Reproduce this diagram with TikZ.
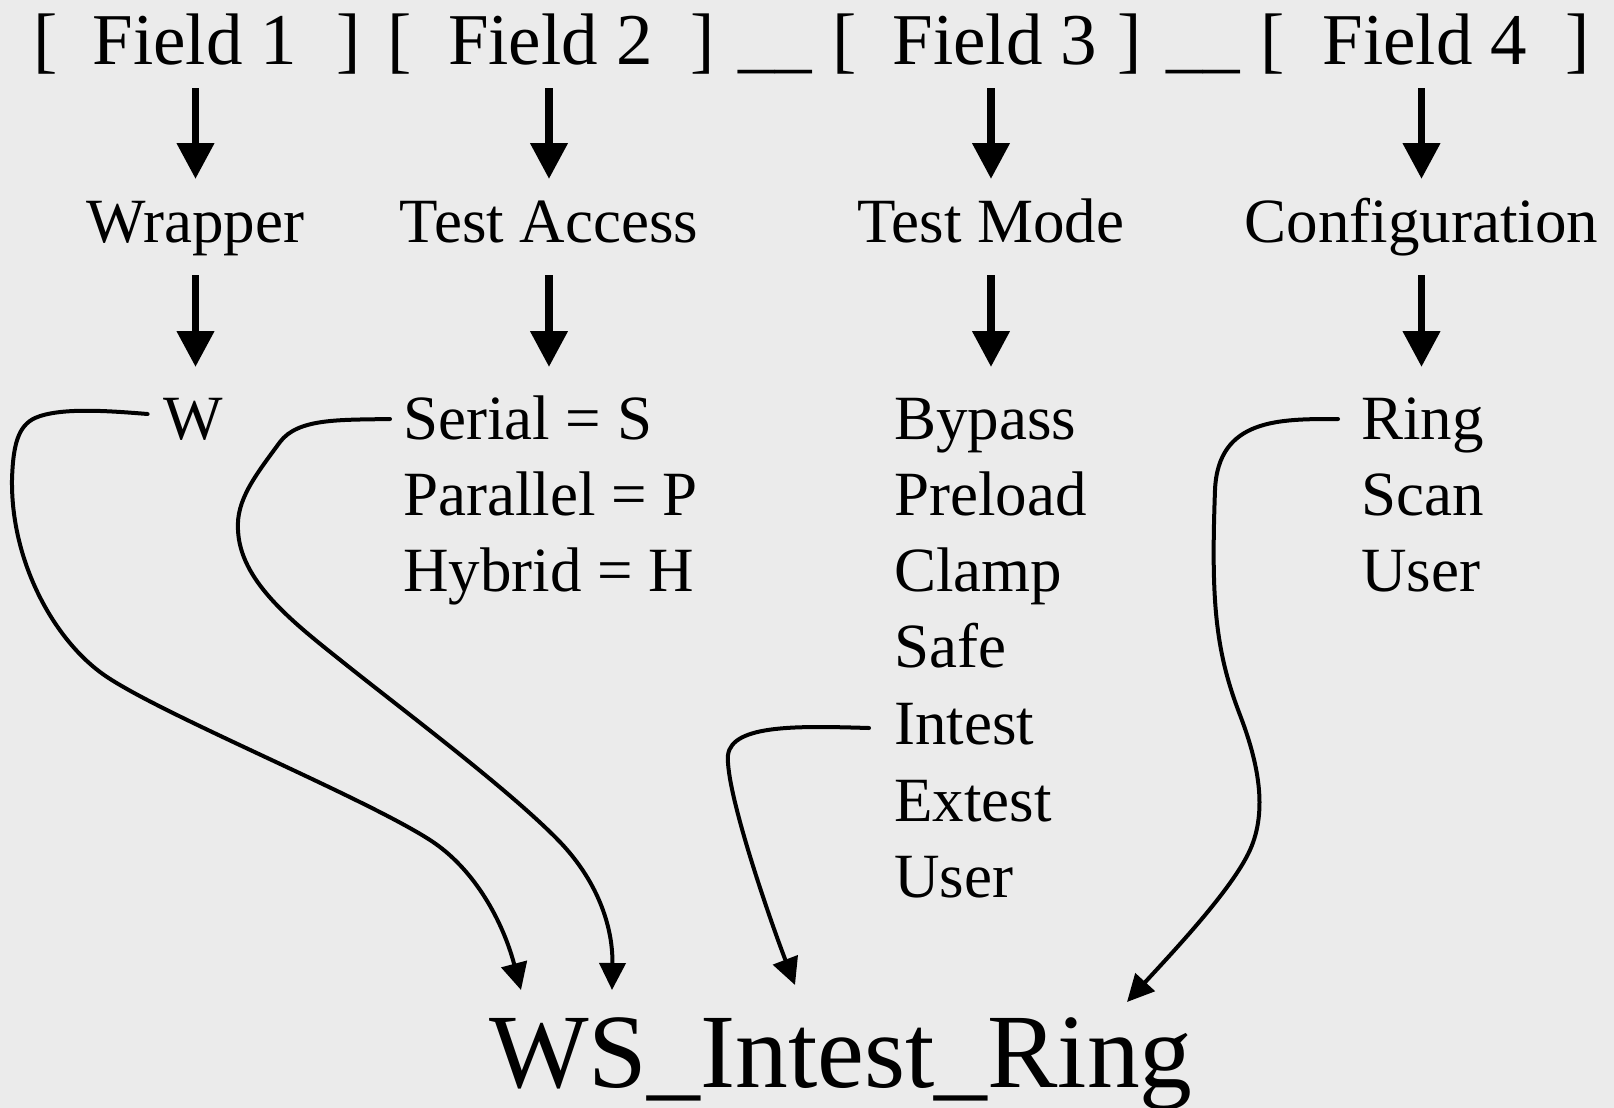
\documentclass[tikz,border=0pt]{standalone}
\usepackage{fontspec}
\setmainfont{Liberation Serif}
\usetikzlibrary{arrows.meta}
\definecolor{bg}{RGB}{235,235,235}
\begin{document}
\begin{tikzpicture}[x=1pt,y=-1pt,
  toptxt/.style={font=\fontsize{73}{80}\selectfont, inner sep=0pt, anchor=base},
  midtxt/.style={font=\fontsize{63}{70}\selectfont, inner sep=0pt, anchor=base},
  itemtxt/.style={font=\fontsize{63}{70}\selectfont, inner sep=0pt, anchor=base west},
  bigtxt/.style={font=\fontsize{105.5}{110}\selectfont, inner sep=0pt, anchor=base},
  downarrow/.style={line width=7.5pt, -{Triangle[width=36pt,length=36pt]}},
  linkarrow/.style={line width=4pt, line cap=round, line join=round, -{Triangle[width=26pt,length=27pt]}}]
\fill[bg] (0,0) rectangle (1614,1108);
\useasboundingbox (0,0) rectangle (1614,1108);

% top row
\node[toptxt] (lb1) at (45.5,65) {[};
\node[toptxt] (f1) at (195,65) {Field 1};
\node[toptxt] (rb1) at (349,65) {]};
\node[toptxt] (lb2) at (399.5,65) {[};
\node[toptxt] (f2) at (550.5,65) {Field 2};
\node[toptxt] (rb2) at (703,65) {]};
\node[toptxt] (us1) at (775,65) {\_\_};
\node[toptxt] (lb3) at (844.5,65) {[};
\node[toptxt] (f3) at (995,65) {Field 3};
\node[toptxt] (rb3) at (1130,65) {]};
\node[toptxt] (us2) at (1203,65) {\_\_};
\node[toptxt] (lb4) at (1273,65) {[};
\node[toptxt] (f4) at (1425,65) {Field 4};
\node[toptxt] (rb4) at (1577.5,65) {]};

% middle row
\node[midtxt] (wrap) at (195.5,242) {Wrapper};
\node[midtxt] (tacc) at (549,242) {Test Access};
\node[midtxt] (tmode) at (991,242) {Test Mode};
\node[midtxt] (conf) at (1421.5,242) {Configuration};

% third row
\node[midtxt] (W) at (193.5,439) {W};
\node[itemtxt] (ser) at (403,439) {Serial = S};
\node[itemtxt] (par) at (403,515) {Parallel = P};
\node[itemtxt] (hyb) at (403,591) {Hybrid = H};
\node[itemtxt] (byp) at (894,439) {Bypass};
\node[itemtxt] (pre) at (894,515) {Preload};
\node[itemtxt] (cla) at (894,591) {Clamp};
\node[itemtxt] (saf) at (894,667) {Safe};
\node[itemtxt] (int) at (894,744) {Intest};
\node[itemtxt] (ext) at (894,821) {Extest};
\node[itemtxt] (usr) at (894,897) {User};
\node[itemtxt] (ring) at (1361,439) {Ring};
\node[itemtxt] (scan) at (1361,515) {Scan};
\node[itemtxt] (cusr) at (1361,591) {User};

% result
\node[bigtxt] (res) at (841,1087) {WS\_Intest\_Ring};

% straight arrows
\foreach \m in {wrap,tacc,tmode,conf}{
  \draw[downarrow] ([yshift=-23pt]\m.base |- f1.base) -- ([yshift=63pt]\m.base);
  \draw[downarrow] ([yshift=-33pt]\m.base) -- ([yshift=72pt]\m.base |- W.base);
}

% curve start/end points
\coordinate (s1) at ([xshift=-16pt,yshift=25pt]W.base west);
\coordinate (s2) at ([xshift=-13pt,yshift=20pt]ser.base west);
\coordinate (s3) at ([xshift=-25pt,yshift=16pt]int.base west);
\coordinate (s4) at ([xshift=-23pt,yshift=20pt]ring.base west);
\coordinate (t1) at ([shift={(-320,-97)}]res.base);
\coordinate (t2) at ([shift={(-229,-97)}]res.base);
\coordinate (t3) at ([shift={(-46,-102)}]res.base);
\coordinate (t4) at ([shift={(286,-85)}]res.base);

\draw[linkarrow] (s1) .. controls (110,411) and (60,407) .. (35,418)
  .. controls (18,426) and (13,445) .. (12,480)
  .. controls (11,560) and (52,636) .. (100,672)
  .. controls (150,710) and (360,795) .. (430,840)
  .. controls (475,869) and (503,922) .. (t1);
\draw[linkarrow] (s2) .. controls (340,420) and (298,418) .. (280,442)
  .. controls (255,476) and (236,500) .. (238,530)
  .. controls (240,580) and (290,620) .. (339,659)
  .. controls (400,708) and (510,790) .. (560,842)
  .. controls (600,884) and (613,930) .. (t2);
\draw[linkarrow] (s3) .. controls (800,726) and (732,724) .. (728,755)
  .. controls (725,790) and (770,920) .. (t3);
\draw[linkarrow] (s4) .. controls (1280,419) and (1218,418) .. (1215,490)
  .. controls (1211,600) and (1215,650) .. (1240,715)
  .. controls (1258,762) and (1268,810) .. (1250,850)
  .. controls (1232,890) and (1170,955) .. (t4);
\end{tikzpicture}
\end{document}
